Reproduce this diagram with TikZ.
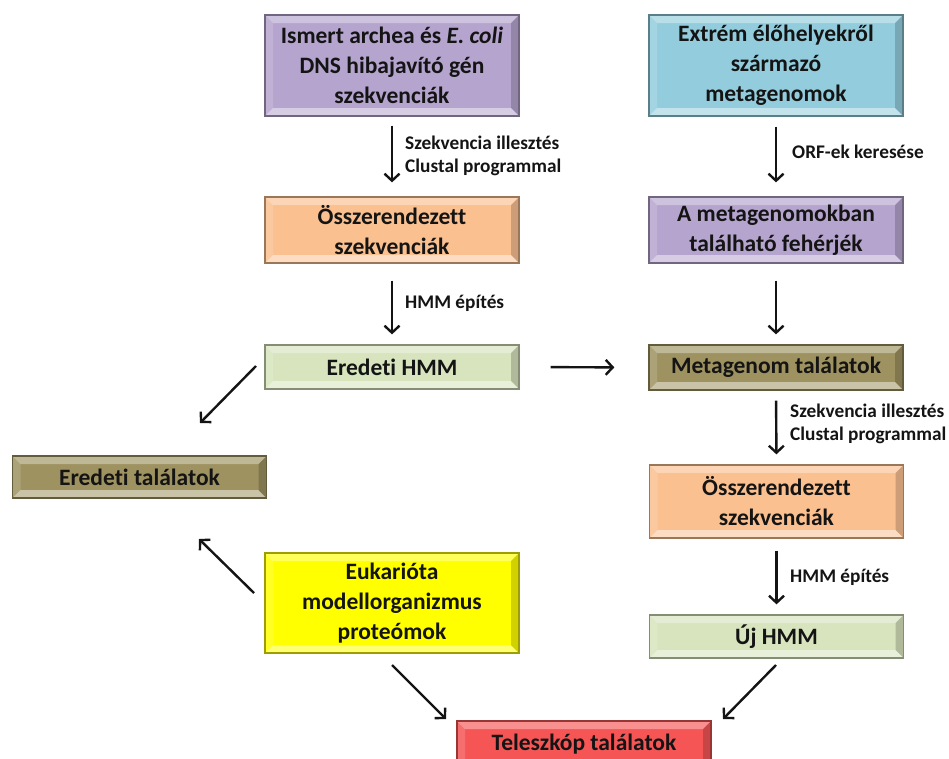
\documentclass[tikz,border=0pt]{standalone}
\usepackage{fontspec}
\setmainfont{Carlito}[Ligatures={NoCommon}]
\usetikzlibrary{arrows.meta}
\definecolor{cpurple}{RGB}{181,164,206}
\definecolor{ccyan}{RGB}{147,205,221}
\definecolor{corange}{RGB}{250,192,144}
\definecolor{cgreen}{RGB}{215,228,189}
\definecolor{colive}{RGB}{158,146,96}
\definecolor{cyellow}{RGB}{255,255,0}
\definecolor{cred}{RGB}{245,85,85}
\definecolor{txt}{RGB}{20,20,20}
\newcommand{\mainfnt}{\fontsize{23.5}{30}\selectfont\bfseries}
\newcommand{\labfnt}{\fontsize{19.3}{23}\selectfont\bfseries}
\tikzset{
  box/.style={rectangle, draw=#1!62!black, line width=1.3pt, fill=#1,
    minimum width=254pt, inner sep=0pt, align=center, text=txt, font=\mainfnt,
    path picture={
      \path (path picture bounding box.north west) coordinate (pnw)
            (path picture bounding box.north east) coordinate (pne)
            (path picture bounding box.south west) coordinate (psw)
            (path picture bounding box.south east) coordinate (pse);
      \fill[white,opacity=.35] (pnw) -- (pne) -- ([shift={(-8pt,-8pt)}]pne) -- ([shift={(8pt,-8pt)}]pnw) -- cycle;
      \fill[white,opacity=.15] (pnw) -- ([shift={(8pt,-8pt)}]pnw) -- ([shift={(8pt,8pt)}]psw) -- (psw) -- cycle;
      \fill[white,opacity=.45] (psw) -- ([shift={(8pt,8pt)}]psw) -- ([shift={(-8pt,8pt)}]pse) -- (pse) -- cycle;
      \fill[black,opacity=.18] (pne) -- (pse) -- ([shift={(-8pt,8pt)}]pse) -- ([shift={(-8pt,-8pt)}]pne) -- cycle;
    }},
  arr/.style={line width=2.4pt, draw=txt, -{Straight Barb[length=7pt,width=15pt,line width=2.4pt]}},
  lab/.style={anchor=west, inner sep=0pt, font=\labfnt, text=txt, align=left}
}
\begin{document}
\begin{tikzpicture}[x=1pt,y=-1pt]
\useasboundingbox (0,0) rectangle (949,758);
% boxes
\node[box=cpurple, minimum height=101pt] (A) at (392,65.5) {Ismert archea és \textit{E. coli}\\DNS hibajavító gén\\szekvenciák};
\node[box=ccyan, minimum height=101pt] (B) at (776,65.5) {Extrém élőhelyekről\\származó\\metagenomok};
\node[box=corange, minimum height=66pt] (C) at (392,230) {Összerendezett\\szekvenciák};
\node[box=cpurple, minimum height=66pt] (D) at (776,230) {A metagenomokban\\található fehérjék};
\node[box=cgreen, minimum height=44pt] (E) at (392,367) {Eredeti HMM};
\node[box=colive, minimum height=45pt] (F) at (776,367.5) {Metagenom találatok};
\node[box=colive, minimum height=42pt] (G) at (139.5,477) {Eredeti találatok};
\node[box=corange, minimum height=73pt] (H) at (776.5,501.5) {Összerendezett\\szekvenciák};
\node[box=cgreen, minimum height=43pt] (I) at (776.5,636.5) {Új HMM};
\node[box=cyellow, minimum height=100pt] (J) at (392,603) {Eukarióta\\modellorganizmus\\proteómok};
\node[box=cred, minimum height=46pt] (K) at (584,744) {Teleszkóp találatok};
% vertical arrows
\draw[arr, shorten <=9pt, shorten >=14pt] (A.south) -- (C.north);
\draw[arr, shorten <=17pt, shorten >=10pt] (C.south) -- (E.north);
\draw[arr, shorten <=10pt, shorten >=14pt] (B.south) -- (D.north);
\draw[arr, shorten <=17pt, shorten >=10pt] (D.south) -- (F.north);
\draw[arr, shorten <=10pt, shorten >=10pt] (F.south) -- (H.north);
\draw[arr, shorten <=12pt, shorten >=10pt] (H.south) -- (I.north);
\draw[arr, shorten <=31pt, shorten >=34pt] (E.east) -- (F.west);
% diagonal arrows
\coordinate (e1) at (256,366);
\coordinate (e2) at (200,423);
\coordinate (j1) at (254,593);
\coordinate (j2) at (199,539);
\coordinate (j3) at (392,665);
\coordinate (j4) at (446,719);
\coordinate (i1) at (776,665);
\coordinate (i2) at (723,719);
\draw[arr] (e1) -- (e2);
\draw[arr] (j1) -- (j2);
\draw[arr] (j3) -- (j4);
\draw[arr] (i1) -- (i2);
% labels
\node[lab] (l1) at (405,156) {Szekvencia illesztés\\Clustal programmal};
\node[lab] (l2) at (405,303) {HMM építés};
\node[lab] (l3) at (792,152) {ORF-ek keresése};
\node[lab] (l4) at (790,424) {Szekvencia illesztés\\Clustal programmal};
\node[lab] (l5) at (790,577) {HMM építés};
\end{tikzpicture}
\end{document}
